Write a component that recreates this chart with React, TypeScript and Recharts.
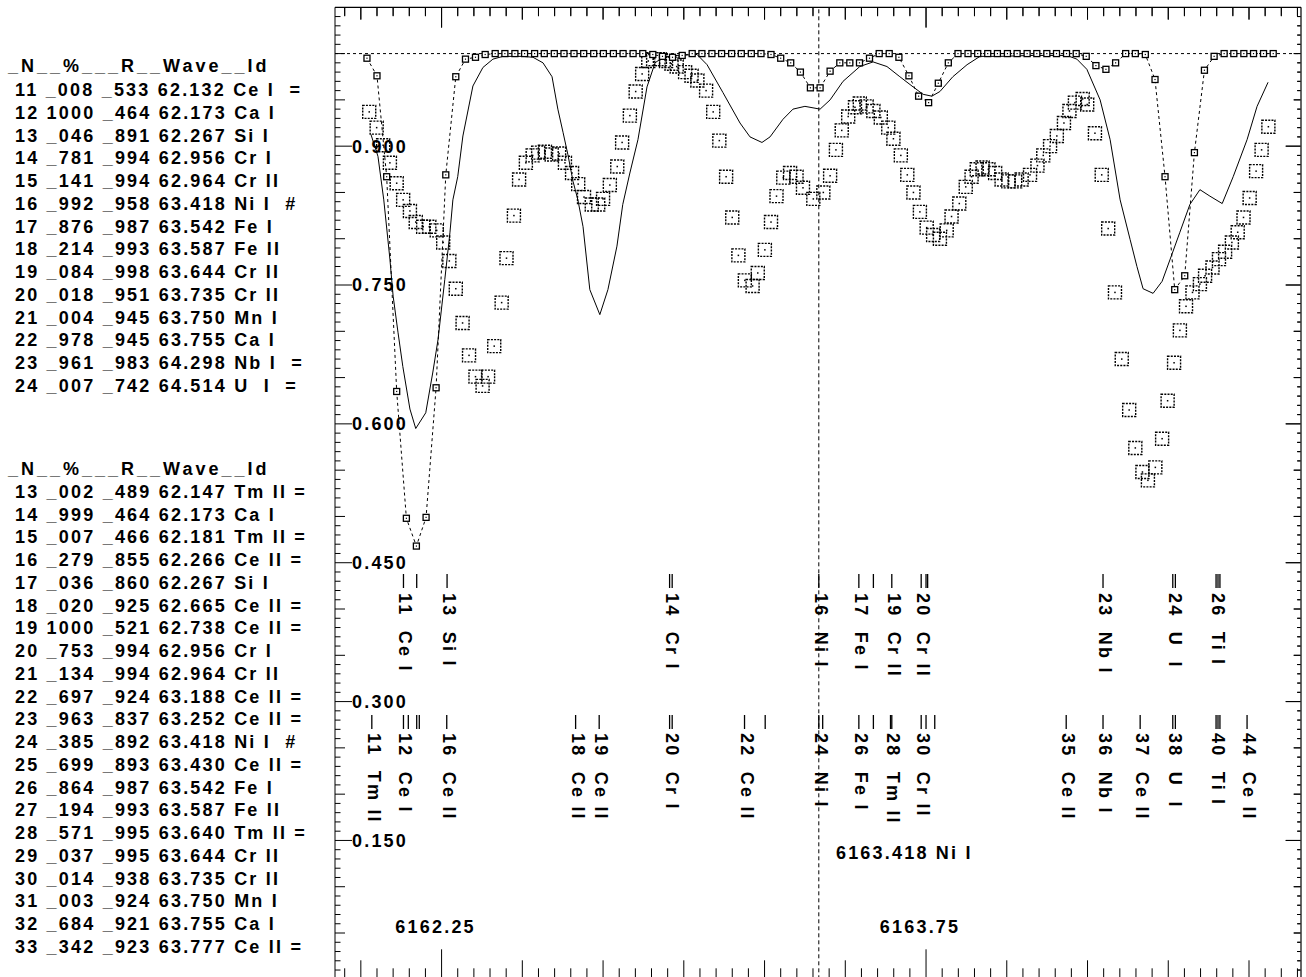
import React from 'react';
import { ComposedChart, Line, Scatter, XAxis, YAxis, ReferenceLine } from 'recharts';

const FONT = '"Liberation Sans", Arial, Helvetica, sans-serif';
const TXT: any = { fontFamily: FONT, fontWeight: 700, fontSize: 18, letterSpacing: 2.2, fill: '#000', whiteSpace: 'pre' };
const HDR: any = { ...TXT, letterSpacing: 3.0 };

const X_DOMAIN: [number, number] = [6161.92, 6164.911];
const Y_DOMAIN: [number, number] = [0, 1.05];
const MARGIN = { top: 7.3, right: 5, bottom: 9.7, left: 334 };

// observed spectrum (large squares): [wavelength, flux]
const observed: [number, number][] = [
  [6162.026, 0.937], [6162.049, 0.920], [6162.069, 0.901], [6162.090, 0.882], [6162.111, 0.860],
  [6162.131, 0.842], [6162.152, 0.830], [6162.170, 0.818], [6162.193, 0.813], [6162.212, 0.813],
  [6162.235, 0.809], [6162.255, 0.796], [6162.274, 0.776], [6162.294, 0.746], [6162.315, 0.709],
  [6162.335, 0.674], [6162.355, 0.651], [6162.377, 0.641], [6162.394, 0.651], [6162.413, 0.684],
  [6162.436, 0.731], [6162.451, 0.779], [6162.474, 0.825], [6162.490, 0.864], [6162.511, 0.882],
  [6162.532, 0.890], [6162.549, 0.893], [6162.570, 0.894], [6162.591, 0.891], [6162.614, 0.892],
  [6162.632, 0.882], [6162.654, 0.871], [6162.673, 0.859], [6162.691, 0.845], [6162.715, 0.837],
  [6162.735, 0.837], [6162.750, 0.843], [6162.771, 0.858], [6162.794, 0.878], [6162.809, 0.904],
  [6162.833, 0.933], [6162.851, 0.959], [6162.871, 0.978], [6162.890, 0.992], [6162.905, 0.994],
  [6162.926, 0.994], [6162.945, 0.992], [6162.962, 0.989], [6162.978, 0.986], [6163.004, 0.980],
  [6163.024, 0.976], [6163.042, 0.971], [6163.069, 0.960], [6163.091, 0.937], [6163.110, 0.906],
  [6163.131, 0.867], [6163.150, 0.823], [6163.169, 0.782], [6163.189, 0.755], [6163.213, 0.749],
  [6163.229, 0.763], [6163.251, 0.788], [6163.270, 0.818], [6163.287, 0.846], [6163.308, 0.866],
  [6163.329, 0.871], [6163.349, 0.867], [6163.369, 0.855], [6163.401, 0.843], [6163.432, 0.850],
  [6163.453, 0.868], [6163.471, 0.896], [6163.489, 0.917], [6163.509, 0.932], [6163.530, 0.942],
  [6163.545, 0.946], [6163.566, 0.943], [6163.587, 0.938], [6163.610, 0.931], [6163.633, 0.920],
  [6163.649, 0.908], [6163.672, 0.890], [6163.692, 0.869], [6163.711, 0.850], [6163.731, 0.829],
  [6163.752, 0.812], [6163.772, 0.804], [6163.793, 0.800], [6163.814, 0.809], [6163.829, 0.824],
  [6163.853, 0.838], [6163.873, 0.856], [6163.891, 0.867], [6163.907, 0.875], [6163.925, 0.877],
  [6163.943, 0.875], [6163.964, 0.871], [6163.984, 0.864], [6164.005, 0.862], [6164.026, 0.862],
  [6164.046, 0.864], [6164.072, 0.869], [6164.095, 0.879], [6164.113, 0.890], [6164.134, 0.900],
  [6164.155, 0.911], [6164.177, 0.925], [6164.194, 0.938], [6164.211, 0.947], [6164.235, 0.951],
  [6164.249, 0.945], [6164.273, 0.914], [6164.294, 0.869], [6164.314, 0.811], [6164.335, 0.742],
  [6164.356, 0.670], [6164.379, 0.615], [6164.398, 0.574], [6164.420, 0.548], [6164.437, 0.539],
  [6164.460, 0.553], [6164.481, 0.584], [6164.498, 0.625], [6164.518, 0.666], [6164.536, 0.701],
  [6164.555, 0.727], [6164.575, 0.742], [6164.598, 0.751], [6164.614, 0.760], [6164.637, 0.769],
  [6164.657, 0.778], [6164.676, 0.786], [6164.697, 0.796], [6164.715, 0.807], [6164.733, 0.823],
  [6164.752, 0.844], [6164.772, 0.873], [6164.789, 0.896], [6164.810, 0.921],
];

// synthetic spectrum (solid line)
const synthetic: [number, number][] = [
  [6162.031, 0.913], [6162.053, 0.889], [6162.071, 0.842], [6162.090, 0.778], [6162.100, 0.738],
  [6162.115, 0.699], [6162.130, 0.662], [6162.152, 0.616], [6162.170, 0.595], [6162.201, 0.612],
  [6162.223, 0.656], [6162.239, 0.691], [6162.260, 0.756], [6162.276, 0.807], [6162.285, 0.842],
  [6162.300, 0.867], [6162.316, 0.911], [6162.347, 0.965], [6162.378, 0.985], [6162.409, 0.994],
  [6162.440, 0.997], [6162.502, 0.997], [6162.533, 0.996], [6162.564, 0.990], [6162.592, 0.975],
  [6162.610, 0.940], [6162.626, 0.915], [6162.641, 0.891], [6162.657, 0.862], [6162.672, 0.842],
  [6162.688, 0.813], [6162.709, 0.745], [6162.740, 0.718], [6162.765, 0.745], [6162.793, 0.792],
  [6162.811, 0.837], [6162.833, 0.871], [6162.858, 0.907], [6162.886, 0.964], [6162.911, 0.990],
  [6162.935, 0.996], [6162.979, 0.998], [6163.041, 0.999], [6163.072, 0.988], [6163.121, 0.958],
  [6163.174, 0.925], [6163.205, 0.910], [6163.242, 0.904], [6163.267, 0.910], [6163.307, 0.929],
  [6163.338, 0.940], [6163.375, 0.943], [6163.422, 0.940], [6163.453, 0.950], [6163.493, 0.970],
  [6163.545, 0.986], [6163.586, 0.991], [6163.629, 0.986], [6163.669, 0.975], [6163.710, 0.964],
  [6163.741, 0.956], [6163.768, 0.954], [6163.793, 0.959], [6163.833, 0.975], [6163.877, 0.988],
  [6163.917, 0.997], [6163.979, 0.997], [6164.081, 0.998], [6164.186, 0.998], [6164.217, 0.994],
  [6164.248, 0.983], [6164.289, 0.950], [6164.320, 0.907], [6164.351, 0.842], [6164.382, 0.799],
  [6164.403, 0.770], [6164.422, 0.746], [6164.453, 0.741], [6164.481, 0.754], [6164.506, 0.778],
  [6164.536, 0.807], [6164.567, 0.837], [6164.598, 0.853], [6164.629, 0.846], [6164.667, 0.838],
  [6164.701, 0.867], [6164.744, 0.907], [6164.775, 0.943], [6164.809, 0.969],
];

// second model (small squares, dashed)
const modelB: [number, number][] = [
  [6162.019, 0.995], [6162.050, 0.976], [6162.080, 0.867], [6162.111, 0.635], [6162.141, 0.498],
  [6162.172, 0.468], [6162.202, 0.499], [6162.233, 0.639], [6162.263, 0.869], [6162.294, 0.975],
  [6162.324, 0.994], [6162.355, 0.996], [6162.385, 0.999], [6162.416, 1.000], [6162.446, 1.000],
  [6162.477, 1.000], [6162.507, 1.000], [6162.538, 1.000], [6162.568, 1.000], [6162.599, 1.000],
  [6162.629, 1.000], [6162.660, 1.000], [6162.690, 1.000], [6162.721, 1.000], [6162.751, 1.000],
  [6162.782, 1.000], [6162.812, 1.000], [6162.843, 1.000], [6162.873, 1.000], [6162.904, 0.999],
  [6162.934, 0.997], [6162.965, 0.996], [6162.995, 0.998], [6163.026, 1.000], [6163.056, 1.000],
  [6163.087, 1.000], [6163.117, 1.000], [6163.148, 1.000], [6163.178, 1.000], [6163.209, 1.000],
  [6163.239, 1.000], [6163.270, 0.999], [6163.300, 0.995], [6163.331, 0.990], [6163.361, 0.980],
  [6163.392, 0.963], [6163.422, 0.963], [6163.453, 0.981], [6163.483, 0.990], [6163.514, 0.990],
  [6163.544, 0.990], [6163.575, 0.995], [6163.605, 1.000], [6163.636, 1.000], [6163.666, 0.996],
  [6163.697, 0.976], [6163.727, 0.954], [6163.758, 0.947], [6163.788, 0.968], [6163.819, 0.990],
  [6163.849, 1.000], [6163.880, 1.000], [6163.910, 1.000], [6163.941, 1.000], [6163.971, 1.000],
  [6164.002, 1.000], [6164.032, 1.000], [6164.063, 1.000], [6164.093, 1.000], [6164.124, 1.000],
  [6164.154, 1.000], [6164.185, 1.000], [6164.215, 1.000], [6164.246, 0.997], [6164.276, 0.987],
  [6164.307, 0.983], [6164.337, 0.990], [6164.368, 1.000], [6164.398, 1.000], [6164.429, 0.999],
  [6164.459, 0.972], [6164.490, 0.867], [6164.520, 0.745], [6164.551, 0.760], [6164.581, 0.893],
  [6164.612, 0.982], [6164.642, 0.997], [6164.673, 1.000], [6164.703, 1.000], [6164.734, 1.000],
  [6164.764, 1.000], [6164.795, 1.000], [6164.825, 1.000],
];

const NI_LINE = 6163.418;
const CONTINUUM = 1.0;

// line identification marks
const upperTickW = [6162.132, 6162.173, 6162.267, 6162.956, 6162.964, 6163.418, 6163.542, 6163.587,
  6163.644, 6163.735, 6163.750, 6163.755, 6164.298, 6164.514, 6164.522, 6164.648, 6164.654, 6164.660];
const upperLabels: [number, string][] = [
  [6162.132, '11  Ce I'], [6162.267, '13  Si I'], [6162.956, '14  Cr I'], [6163.418, '16  Ni I'],
  [6163.542, '17  Fe I'], [6163.644, '19  Cr II'], [6163.735, '20  Cr II'], [6164.298, '23  Nb I'],
  [6164.514, '24  U  I'], [6164.648, '26  Ti I'],
];
const lowerTickW = [6162.034, 6162.132, 6162.147, 6162.173, 6162.181, 6162.266, 6162.665, 6162.738,
  6162.956, 6162.964, 6163.188, 6163.252, 6163.418, 6163.430, 6163.542, 6163.587, 6163.640, 6163.644,
  6163.735, 6163.750, 6163.777, 6164.184, 6164.298, 6164.413, 6164.514, 6164.522, 6164.648, 6164.654,
  6164.660, 6164.744];
const lowerLabels: [number, string][] = [
  [6162.034, '11  Tm II'], [6162.132, '12  Ce I'], [6162.266, '16  Ce II'], [6162.665, '18  Ce II'],
  [6162.738, '19  Ce II'], [6162.956, '20  Cr I'], [6163.188, '22  Ce II'], [6163.418, '24  Ni I'],
  [6163.542, '26  Fe I'], [6163.640, '28  Tm II'], [6163.735, '30  Cr II'], [6164.184, '35  Ce II'],
  [6164.298, '36  Nb I'], [6164.413, '37  Ce II'], [6164.514, '38  U  I'], [6164.648, '40  Ti I'],
  [6164.744, '44  Ce II'],
];
const UPPER_TICK_TOP = 0.4378;
const UPPER_TEXT_TOP = 0.4173;
const LOWER_TICK_TOP = 0.2855;
const LOWER_TEXT_TOP = 0.2661;

const notes: { w: number; v: number; t: string; anchor: string; dx: number }[] = [
  { w: 6163.471, v: 0.1364, t: '6163.418 Ni I', anchor: 'start', dx: 0 },
  { w: 6162.25, v: 0.0565, t: '6162.25', anchor: 'middle', dx: -6 },
  { w: 6163.75, v: 0.0565, t: '6163.75', anchor: 'middle', dx: -6 },
];

// tables
const tableHeader = '_N__%___R__Wave__Id';
const tableA: string[][] = [
  ['11', '_008', '_533', '62.132', 'Ce I', '='],
  ['12', '1000', '_464', '62.173', 'Ca I', ''],
  ['13', '_046', '_891', '62.267', 'Si I', ''],
  ['14', '_781', '_994', '62.956', 'Cr I', ''],
  ['15', '_141', '_994', '62.964', 'Cr II', ''],
  ['16', '_992', '_958', '63.418', 'Ni I', '#'],
  ['17', '_876', '_987', '63.542', 'Fe I', ''],
  ['18', '_214', '_993', '63.587', 'Fe II', ''],
  ['19', '_084', '_998', '63.644', 'Cr II', ''],
  ['20', '_018', '_951', '63.735', 'Cr II', ''],
  ['21', '_004', '_945', '63.750', 'Mn I', ''],
  ['22', '_978', '_945', '63.755', 'Ca I', ''],
  ['23', '_961', '_983', '64.298', 'Nb I', '='],
  ['24', '_007', '_742', '64.514', 'U  I', '='],
];
const tableB: string[][] = [
  ['13', '_002', '_489', '62.147', 'Tm II', '='],
  ['14', '_999', '_464', '62.173', 'Ca I', ''],
  ['15', '_007', '_466', '62.181', 'Tm II', '='],
  ['16', '_279', '_855', '62.266', 'Ce II', '='],
  ['17', '_036', '_860', '62.267', 'Si I', ''],
  ['18', '_020', '_925', '62.665', 'Ce II', '='],
  ['19', '1000', '_521', '62.738', 'Ce II', '='],
  ['20', '_753', '_994', '62.956', 'Cr I', ''],
  ['21', '_134', '_994', '62.964', 'Cr II', ''],
  ['22', '_697', '_924', '63.188', 'Ce II', '='],
  ['23', '_963', '_837', '63.252', 'Ce II', '='],
  ['24', '_385', '_892', '63.418', 'Ni I', '#'],
  ['25', '_699', '_893', '63.430', 'Ce II', '='],
  ['26', '_864', '_987', '63.542', 'Fe I', ''],
  ['27', '_194', '_993', '63.587', 'Fe II', ''],
  ['28', '_571', '_995', '63.640', 'Tm II', '='],
  ['29', '_037', '_995', '63.644', 'Cr II', ''],
  ['30', '_014', '_938', '63.735', 'Cr II', ''],
  ['31', '_003', '_924', '63.750', 'Mn I', ''],
  ['32', '_684', '_921', '63.755', 'Ca I', ''],
  ['33', '_342', '_923', '63.777', 'Ce II', '='],
];

// axis ticks
const xMajor = [6162.25, 6163.75];
const xTicks: number[] = [];
for (let i = 0; i < 60; i++) {
  const t = Math.round((6161.95 + i * 0.05) * 100) / 100;
  if (t <= X_DOMAIN[1]) xTicks.push(t);
}
const yTicks: number[] = [];
for (let i = 1; i <= 104; i++) yTicks.push(i / 100);
// anchors for the inward ticks of the top and right edges, just inside the frame
const TOP_EDGE_V = 1.0495;
const RIGHT_EDGE_W = 6164.9095;
const TOP_TICK_LEN = [0.0087, 0.0125, 0.0211];
const RIGHT_TICK_LEN = [0.0093, 0.0202, 0.045];

const near = (a: number, b: number) => Math.abs(a - b) < 1e-6;
const xKind = (v: number) => (xMajor.some((m) => near(m, v)) ? 2 : near(v * 4, Math.round(v * 4)) ? 1 : 0);
const yKind = (v: number) => (near(v / 0.15, Math.round(v / 0.15)) ? 2 : near(v * 20, Math.round(v * 20)) ? 1 : 0);

const renderXTick = (p: any) => {
  const k = xKind(p.payload.value);
  const len = k === 2 ? 30 : k === 1 ? 19 : 11;
  return <line x1={p.x} x2={p.x} y1={p.y} y2={p.y - len} stroke="#000" strokeWidth={1} />;
};
const renderYTick = (p: any) => {
  const v = p.payload.value;
  const k = yKind(v);
  const len = k === 2 ? 17 : k === 1 ? 10 : 5.5;
  return (
    <g>
      <line x1={p.x} x2={p.x + len} y1={p.y} y2={p.y} stroke="#000" strokeWidth={1} />
      {k === 2 ? (
        <text x={p.x + 17} y={p.y} dy="0.36em" style={TXT}>
          {v.toFixed(3)}
        </text>
      ) : null}
    </g>
  );
};

const TopTickShape = (p: any) => {
  const { cx, cy, payload } = p;
  if (cx == null || cy == null) return <g />;
  const len = payload.k === 2 ? 20 : payload.k === 1 ? 12 : 8.5;
  return <line x1={cx} x2={cx} y1={cy} y2={cy + len} stroke="#000" strokeWidth={1} />;
};
const RightTickShape = (p: any) => {
  const { cx, cy, payload } = p;
  if (cx == null || cy == null) return <g />;
  const len = payload.k === 2 ? 15 : payload.k === 1 ? 7 : 3.5;
  return <line x1={cx} x2={cx - len} y1={cy} y2={cy} stroke="#000" strokeWidth={1} />;
};

const ObsSquare = (p: any) => {
  const { cx, cy } = p;
  if (cx == null || cy == null) return null;
  return (
    <g>
      <rect x={cx - 6.5} y={cy - 6.5} width={13} height={13} fill="none" stroke="#000" strokeWidth={1.4} strokeDasharray="2 1.2" />
      <rect x={cx - 0.75} y={cy - 0.75} width={1.5} height={1.5} fill="#000" />
    </g>
  );
};
const SmallSquare = (p: any) => {
  const { cx, cy, index } = p;
  if (cx == null || cy == null) return null;
  return (
    <g key={`sq-${index}`}>
      <rect x={cx - 3} y={cy - 3} width={6} height={6} fill="#fff" stroke="#000" strokeWidth={1.3} />
      <rect x={cx - 0.6} y={cy - 0.6} width={1.2} height={1.2} fill="#000" />
    </g>
  );
};
const TickMark = (p: any) => {
  const { cx, cy } = p;
  if (cx == null) return null;
  return <line x1={cx} x2={cx} y1={cy} y2={cy + 14} stroke="#000" strokeWidth={1.3} />;
};
const RotLabel = (p: any) => {
  const { cx, cy, payload } = p;
  if (cx == null) return null;
  return (
    <text transform={`translate(${cx + 2},${cy}) rotate(90)`} dominantBaseline="central" style={TXT}>
      {payload.t}
    </text>
  );
};
const NoteText = (p: any) => {
  const { cx, cy, payload } = p;
  if (cx == null) return null;
  return (
    <text x={cx + payload.dx} y={cy} dominantBaseline="central" textAnchor={payload.anchor} style={TXT}>
      {payload.t}
    </text>
  );
};

const toPts = (arr: [number, number][]) => arr.map(([w, v]) => ({ w, v }));

export default function App() {
  const obsData = toPts(observed);
  const synData = toPts(synthetic);
  const modData = toPts(modelB);
  const upTicks = upperTickW.map((w) => ({ w, v: UPPER_TICK_TOP }));
  const loTicks = lowerTickW.map((w) => ({ w, v: LOWER_TICK_TOP }));
  const upLabels = upperLabels.map(([w, t]) => ({ w, v: UPPER_TEXT_TOP, t }));
  const loLabels = lowerLabels.map(([w, t]) => ({ w, v: LOWER_TEXT_TOP, t }));
  const topTicks = xTicks.map((t) => ({ w: t, v: TOP_EDGE_V, k: xKind(t) }));
  const rightTicks = yTicks.map((t) => ({ w: RIGHT_EDGE_W, v: t, k: yKind(t) }));
  const fmt = (r: string[]) => `${r[0]} ${r[1]} ${r[2]} ${r[3]} ${r[4].padEnd(5, ' ')}${r[5] ? ' ' + r[5] : ''}`;

  return (
    <div style={{ position: 'absolute', left: 0, top: 0, width: 1306, height: 977, overflow: 'hidden', background: '#fff' }}>
      <ComposedChart width={1306} height={990} margin={MARGIN}>
        <XAxis
          xAxisId="main"
          dataKey="w"
          type="number"
          domain={X_DOMAIN}
          allowDataOverflow
          ticks={xTicks}
          interval={0}
          height={1}
          tickSize={0}
          tickMargin={0}
          tickLine={false}
          axisLine={{ stroke: '#000', strokeWidth: 1 }}
          tick={renderXTick}
        />
        <YAxis
          yAxisId="main"
          dataKey="v"
          type="number"
          domain={Y_DOMAIN}
          allowDataOverflow
          ticks={yTicks}
          interval={0}
          width={1}
          tickSize={0}
          tickMargin={0}
          tickLine={false}
          axisLine={{ stroke: '#000', strokeWidth: 1 }}
          tick={renderYTick}
        />
        {/* top and right frame edges */}
        <ReferenceLine xAxisId="main" yAxisId="main" y={Y_DOMAIN[1]} stroke="#000" strokeWidth={1.2} ifOverflow="visible" />
        <ReferenceLine xAxisId="main" yAxisId="main" x={X_DOMAIN[1]} stroke="#000" strokeWidth={1.2} ifOverflow="visible" />
        {xTicks.map((t) => (
          <ReferenceLine
            key={`tt${t}`}
            xAxisId="main"
            yAxisId="main"
            segment={[
              { x: t, y: TOP_EDGE_V },
              { x: t, y: TOP_EDGE_V - TOP_TICK_LEN[xKind(t)] },
            ]}
            stroke="#000"
            strokeWidth={1}
          />
        ))}
        {yTicks.map((t) => (
          <ReferenceLine
            key={`rt${t}`}
            xAxisId="main"
            yAxisId="main"
            segment={[
              { x: RIGHT_EDGE_W, y: t },
              { x: RIGHT_EDGE_W - RIGHT_TICK_LEN[yKind(t)], y: t },
            ]}
            stroke="#000"
            strokeWidth={1}
          />
        ))}
        <Scatter xAxisId="main" yAxisId="main" data={topTicks} dataKey="v" shape={TopTickShape} isAnimationActive={false} />
        <Scatter xAxisId="main" yAxisId="main" data={rightTicks} dataKey="v" shape={RightTickShape} isAnimationActive={false} />
        <ReferenceLine xAxisId="main" yAxisId="main" y={CONTINUUM} stroke="#000" strokeWidth={1} strokeDasharray="3 3" />
        <ReferenceLine xAxisId="main" yAxisId="main" x={NI_LINE} stroke="#000" strokeWidth={1} strokeDasharray="4 3" />
        <Scatter xAxisId="main" yAxisId="main" data={obsData} dataKey="v" shape={ObsSquare} isAnimationActive={false} />
        <Line
          xAxisId="main"
          yAxisId="main"
          data={synData}
          dataKey="v"
          type="linear"
          stroke="#000"
          strokeWidth={1}
          dot={false}
          activeDot={false}
          isAnimationActive={false}
        />
        <Line
          xAxisId="main"
          yAxisId="main"
          data={modData}
          dataKey="v"
          type="linear"
          stroke="#000"
          strokeWidth={1}
          strokeDasharray="3 3"
          dot={SmallSquare}
          activeDot={false}
          isAnimationActive={false}
        />
        <Scatter xAxisId="main" yAxisId="main" data={upTicks} dataKey="v" shape={TickMark} isAnimationActive={false} />
        <Scatter xAxisId="main" yAxisId="main" data={loTicks} dataKey="v" shape={TickMark} isAnimationActive={false} />
        <Scatter xAxisId="main" yAxisId="main" data={upLabels} dataKey="v" shape={RotLabel} isAnimationActive={false} />
        <Scatter xAxisId="main" yAxisId="main" data={loLabels} dataKey="v" shape={RotLabel} isAnimationActive={false} />
        <Scatter xAxisId="main" yAxisId="main" data={notes} dataKey="v" shape={NoteText} isAnimationActive={false} />
      </ComposedChart>
      <svg width={1306} height={977} style={{ position: 'absolute', left: 0, top: 0, pointerEvents: 'none' }}>
        <text x={8} y={66} dominantBaseline="central" style={HDR} xmlSpace="preserve">{tableHeader}</text>
        {tableA.map((r, i) => (
          <text key={`a${i}`} x={15} y={90 + i * 22.75} dominantBaseline="central" style={TXT} xmlSpace="preserve">
            {fmt(r)}
          </text>
        ))}
        <text x={8} y={469} dominantBaseline="central" style={HDR} xmlSpace="preserve">{tableHeader}</text>
        {tableB.map((r, i) => (
          <text key={`b${i}`} x={15} y={491.75 + i * 22.75} dominantBaseline="central" style={TXT} xmlSpace="preserve">
            {fmt(r)}
          </text>
        ))}
      </svg>
    </div>
  );
}
